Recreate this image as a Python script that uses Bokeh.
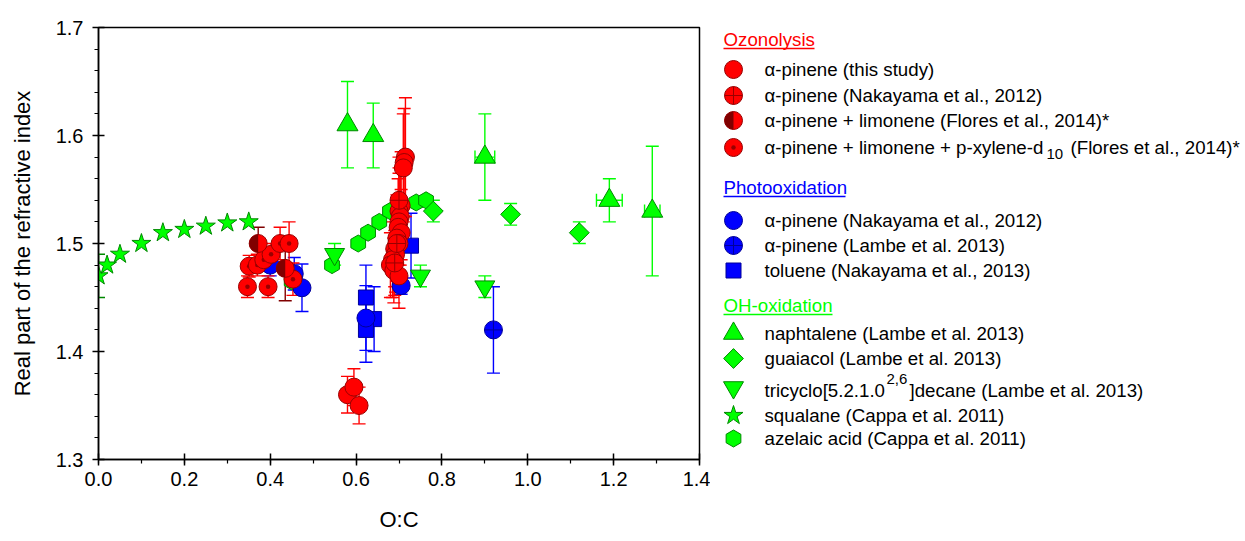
import numpy as np
from bokeh.plotting import figure
from bokeh.models import (Range1d, ColumnDataSource, Whisker, TeeHead, FixedTicker,
                          NumeralTickFormatter)
from bokeh.layouts import row
from bokeh.embed import file_html
from bokeh.resources import INLINE
from bokeh.core.properties import value

FONT = "Liberation Sans"
RED, RED_EDGE, DARK_RED = "#FF0000", "#990000", "#800000"
BLUE, BLUE_EDGE = "#0000FF", "#000099"
GREEN, GREEN_EDGE = "#00FF00", "#008800"

# ---------------- data ----------------
# Ozonolysis
this_oc = [0.580, 0.595, 0.607, 0.715, 0.712, 0.710, 0.705, 0.700, 0.703, 0.700, 0.698,
           0.705, 0.695, 0.700, 0.690, 0.692, 0.685, 0.680, 0.688, 0.700]
this_ri = [1.360, 1.367, 1.350, 1.580, 1.575, 1.570, 1.535, 1.530, 1.525, 1.520, 1.515,
           1.510, 1.505, 1.500, 1.495, 1.490, 1.485, 1.480, 1.475, 1.470]
this_err = [0.017, 0.017, 0.017, 0.055, 0.05, 0.05, 0.05, 0.05, 0.045, 0.045, 0.045,
            0.04, 0.04, 0.04, 0.035, 0.035, 0.035, 0.03, 0.03, 0.03]

nak12_oc = [0.700, 0.695, 0.690]
nak12_ri = [1.540, 1.500, 1.482]
nak12_err = [0.03, 0.03, 0.03]

flo_lim_oc = [0.372, 0.435]
flo_lim_ri = [1.500, 1.477]
flo_lim_err = [0.015, 0.03]

flo_xyl_oc = [0.347, 0.395, 0.351, 0.370, 0.385, 0.402, 0.423, 0.444, 0.453]
flo_xyl_ri = [1.460, 1.460, 1.479, 1.480, 1.485, 1.490, 1.500, 1.500, 1.467]
flo_xyl_err = [0.01, 0.01, 0.01, 0.01, 0.01, 0.01, 0.015, 0.02, 0.015]

# Photooxidation
pho_nak_oc = [0.400, 0.456, 0.474, 0.705, 0.623]
pho_nak_ri = [1.480, 1.472, 1.459, 1.461, 1.431]
pho_nak_err = [0.01, 0.015, 0.022, 0.008, 0.03]

pho_lam_oc = [0.920]
pho_lam_ri = [1.420]
pho_lam_err = [0.04]

tol_oc = [0.623, 0.642, 0.623, 0.728]
tol_ri = [1.450, 1.430, 1.420, 1.498]
tol_err = [0.03, 0.03, 0.03, 0.03]

# OH-oxidation
nap_oc = [0.58, 0.64, 0.90, 1.19, 1.29]
nap_ri = [1.61, 1.60, 1.58, 1.54, 1.53]
nap_err = [0.04, 0.03, 0.04, 0.02, 0.06]
nap_xerr = [0.0, 0.0, 0.023, 0.03, 0.018]

gua_oc = [0.78, 0.96, 1.12]
gua_ri = [1.530, 1.527, 1.510]
gua_err = [0.01, 0.01, 0.01]

tri_oc = [0.55, 0.75, 0.90]
tri_ri = [1.49, 1.47, 1.46]
tri_err = [0.01, 0.01, 0.01]

squ_oc = [0.00, 0.02, 0.05, 0.10, 0.15, 0.20, 0.25, 0.30, 0.35]
squ_ri = [1.470, 1.480, 1.490, 1.500, 1.510, 1.513, 1.516, 1.519, 1.520]
squ_err = [0.02, 0, 0, 0, 0, 0, 0, 0, 0]

aze_oc = [0.450, 0.544, 0.605, 0.628, 0.654, 0.679, 0.740, 0.763]
aze_ri = [1.465, 1.480, 1.500, 1.510, 1.520, 1.530, 1.538, 1.540]

y_ticks = [1.3, 1.4, 1.5, 1.6, 1.7]
x_ticks = [0.0, 0.2, 0.4, 0.6, 0.8, 1.0, 1.2, 1.4]

H = 540
TOP, BOT = 27, 81

# ---------------- main plot ----------------
p = figure(width=710, height=H, x_range=Range1d(0, 1.4), y_range=Range1d(1.3, 1.7),
           output_backend="svg", toolbar_location=None,
           min_border_left=98, min_border_right=11, min_border_top=TOP, min_border_bottom=BOT)
p.xgrid.visible = False
p.ygrid.visible = False
p.outline_line_color = "black"
p.outline_line_width = 1.5
p.background_fill_color = "white"
p.border_fill_color = "white"

p.yaxis.ticker = FixedTicker(ticks=y_ticks, minor_ticks=list(np.round(np.arange(1.30, 1.7001, 0.02), 2)))
p.xaxis.ticker = FixedTicker(ticks=x_ticks, minor_ticks=list(np.round(np.arange(0.0, 1.4001, 0.1), 2)))
for ax in (p.xaxis, p.yaxis):
    ax.formatter = NumeralTickFormatter(format="0.0")
    ax.axis_line_width = 1.5
    ax.major_tick_line_width = 1.5
    ax.minor_tick_line_width = 1.2
    ax.major_tick_in = 6
    ax.major_tick_out = 6
    ax.minor_tick_in = 0
    ax.minor_tick_out = 4
    ax.major_label_text_font = FONT
    ax.major_label_text_font_size = "20px"
    ax.major_label_text_color = "black"
    ax.axis_label_text_font = FONT
    ax.axis_label_text_font_size = "22px"
    ax.axis_label_text_font_style = "normal"
    ax.axis_label_text_color = "black"
p.yaxis.axis_label = "Real part of the refractive index"
p.xaxis.axis_label = "O:C"
p.yaxis.major_label_standoff = 9
p.xaxis.major_label_standoff = 6
p.yaxis.axis_label_standoff = 18
p.xaxis.axis_label_standoff = 18


def errbars(fig, xs, ys, errs, color, horizontal=False):
    b, lo, hi = [], [], []
    for x, y, e in zip(xs, ys, errs):
        if e > 0:
            if horizontal:
                b.append(y); lo.append(x - e); hi.append(x + e)
            else:
                b.append(x); lo.append(y - e); hi.append(y + e)
    if not b:
        return
    src = ColumnDataSource(dict(base=b, lower=lo, upper=hi))
    w = Whisker(source=src, base="base", lower="lower", upper="upper",
                dimension="width" if horizontal else "height",
                line_color=color, line_width=1.4, level="underlay",
                upper_head=TeeHead(size=13, line_color=color, line_width=1.4),
                lower_head=TeeHead(size=13, line_color=color, line_width=1.4))
    fig.add_layout(w)


# OH-oxidation (green)
errbars(p, nap_oc, nap_ri, nap_err, GREEN)
errbars(p, nap_oc, nap_ri, nap_xerr, GREEN, horizontal=True)
errbars(p, gua_oc, gua_ri, gua_err, GREEN)
errbars(p, tri_oc, tri_ri, tri_err, GREEN)
errbars(p, squ_oc, squ_ri, squ_err, GREEN_EDGE)
p.scatter(aze_oc, aze_ri, marker="hex", size=17, angle=np.pi / 2,
          fill_color=GREEN, line_color=GREEN_EDGE, line_width=1)
p.scatter(squ_oc, squ_ri, marker="star", size=20, fill_color=GREEN, line_color=GREEN_EDGE, line_width=1)
p.scatter(tri_oc, tri_ri, marker="inverted_triangle", size=20, fill_color=GREEN, line_color=GREEN_EDGE, line_width=1)
p.scatter(gua_oc, gua_ri, marker="square", size=14, angle=np.pi / 4,
          fill_color=GREEN, line_color=GREEN_EDGE, line_width=1)
p.scatter(nap_oc, nap_ri, marker="triangle", size=21, fill_color=GREEN, line_color=GREEN_EDGE, line_width=1)

# Photooxidation (blue)
errbars(p, tol_oc, tol_ri, tol_err, BLUE)
errbars(p, pho_nak_oc, pho_nak_ri, pho_nak_err, BLUE)
errbars(p, pho_lam_oc, pho_lam_ri, pho_lam_err, BLUE)
p.scatter(tol_oc, tol_ri, marker="square", size=15, fill_color=BLUE, line_color=BLUE_EDGE, line_width=1)
p.scatter(pho_nak_oc, pho_nak_ri, marker="circle", size=18, fill_color=BLUE, line_color=BLUE_EDGE, line_width=1)
p.scatter(pho_lam_oc, pho_lam_ri, marker="circle_cross", size=18, fill_color=BLUE, line_color=BLUE_EDGE, line_width=1)

# Ozonolysis (red)
errbars(p, this_oc, this_ri, this_err, RED)
errbars(p, nak12_oc, nak12_ri, nak12_err, RED)
errbars(p, flo_xyl_oc, flo_xyl_ri, flo_xyl_err, RED)
errbars(p, flo_lim_oc, flo_lim_ri, flo_lim_err, DARK_RED)
p.scatter(this_oc, this_ri, marker="circle", size=18, fill_color=RED, line_color=RED_EDGE, line_width=1)
p.scatter(nak12_oc, nak12_ri, marker="circle_cross", size=18, fill_color=RED, line_color=RED_EDGE, line_width=1)
p.scatter(flo_xyl_oc, flo_xyl_ri, marker="circle_dot", size=18, fill_color=RED, line_color=RED_EDGE, line_width=1)
p.scatter(flo_lim_oc, flo_lim_ri, marker="circle", size=18, fill_color=RED, line_color=RED_EDGE, line_width=1)
p.wedge(flo_lim_oc, flo_lim_ri, radius=9, radius_units="screen", start_angle=np.pi / 2,
        end_angle=3 * np.pi / 2, fill_color=DARK_RED, line_color=None)

# ---------------- legend panel (coordinates = page pixels) ----------------
L = figure(width=535, height=H, x_range=Range1d(710, 1245), y_range=Range1d(459, 27),
           output_backend="svg", toolbar_location=None, x_axis_type=None, y_axis_type=None,
           min_border_left=0, min_border_right=0, min_border_top=TOP, min_border_bottom=BOT,
           outline_line_color=None)
L.xgrid.visible = False
L.ygrid.visible = False
L.background_fill_color = "white"
L.border_fill_color = "white"

MX, TX, HX = 733, 764, 723
FS = "18.7px"

def txt(x, y, s, color="black", size=FS):
    L.text([x], [y], text=[s], text_font=value(FONT), text_font_size=size,
           text_color=color, text_baseline="middle", text_align="left")

def heading(y, s, color, x_end):
    txt(HX, y, s, color)
    L.segment([HX], [y + 9], [x_end], [y + 9], line_color=color, line_width=1.3)

# Ozonolysis
heading(39, "Ozonolysis", RED, 814)
L.scatter([MX], [69], marker="circle", size=18, fill_color=RED, line_color=RED_EDGE)
txt(TX, 69, "α-pinene (this study)")
L.scatter([MX], [95], marker="circle_cross", size=18, fill_color=RED, line_color=RED_EDGE)
txt(TX, 95, "α-pinene (Nakayama et al., 2012)")
L.scatter([MX], [120], marker="circle", size=18, fill_color=RED, line_color=RED_EDGE)
L.wedge([MX], [120], radius=9, radius_units="screen", start_angle=np.pi / 2,
        end_angle=3 * np.pi / 2, fill_color=DARK_RED, line_color=None)
txt(TX, 120, "α-pinene + limonene (Flores et al., 2014)*")
L.scatter([MX], [147], marker="circle_dot", size=18, fill_color=RED, line_color=RED_EDGE)
txt(TX, 147, "α-pinene + limonene + p-xylene-d")
txt(1046, 153, "10", size="15px")
txt(1070, 147, "(Flores et al., 2014)*")

# Photooxidation
heading(187, "Photooxidation", BLUE, 845)
L.scatter([MX], [220], marker="circle", size=18, fill_color=BLUE, line_color=BLUE_EDGE)
txt(TX, 220, "α-pinene (Nakayama et al., 2012)")
L.scatter([MX], [245], marker="circle_cross", size=18, fill_color=BLUE, line_color=BLUE_EDGE)
txt(TX, 245, "α-pinene (Lambe et al. 2013)")
L.scatter([MX], [270], marker="square", size=15, fill_color=BLUE, line_color=BLUE_EDGE)
txt(TX, 270, "toluene (Nakayama et al., 2013)")

# OH-oxidation
heading(305, "OH-oxidation", GREEN, 832)
L.scatter([MX], [333], marker="triangle", size=20, fill_color=GREEN, line_color=GREEN_EDGE)
txt(TX, 333, "naphtalene (Lambe et al. 2013)")
L.scatter([MX], [358], marker="square", size=14, angle=np.pi / 4, fill_color=GREEN, line_color=GREEN_EDGE)
txt(TX, 358, "guaiacol (Lambe et al. 2013)")
L.scatter([MX], [387], marker="inverted_triangle", size=20, fill_color=GREEN, line_color=GREEN_EDGE)
txt(TX, 390, "tricyclo[5.2.1.0")
txt(886, 378, "2,6", size="15px")
txt(909, 390, "]decane (Lambe et al. 2013)")
L.scatter([MX], [415], marker="star", size=20, fill_color=GREEN, line_color=GREEN_EDGE)
txt(TX, 415, "squalane (Cappa et al. 2011)")
L.scatter([MX], [438], marker="hex", size=17, angle=np.pi / 2, fill_color=GREEN, line_color=GREEN_EDGE)
txt(TX, 438, "azelaic acid (Cappa et al. 2011)")

layout = row(p, L, spacing=0)
open("out.html", "w").write(file_html(layout, INLINE))
